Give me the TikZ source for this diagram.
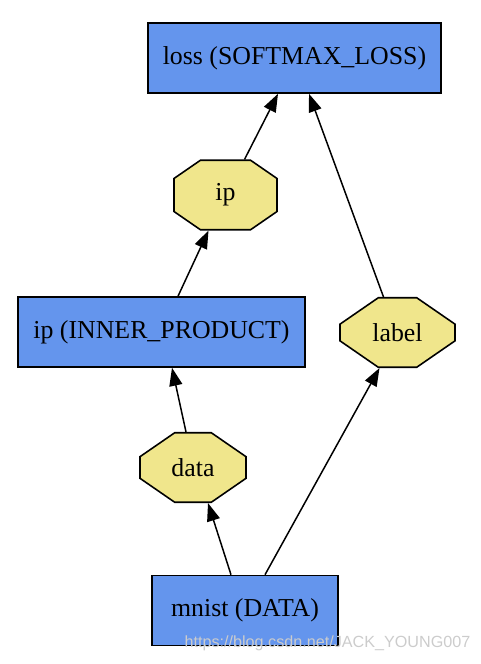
\documentclass[tikz,border=0pt]{standalone}
\usepackage{fontspec}
\setmainfont{Liberation Serif}
\newfontfamily\wmfont{Liberation Sans}
\usepackage{tikz}
\usetikzlibrary{shapes.misc,arrows.meta,calc}

\definecolor{layerblue}{HTML}{6495ED}
\definecolor{blobkhaki}{HTML}{F0E68C}

\begin{document}
\begin{tikzpicture}
	[
	align=center,
	font=\fontsize{14.7}{16}\selectfont,
	layer/.style={draw, line width=0.9pt, fill=layerblue, rectangle, minimum height=1.4cm, inner sep=0pt},
	blob/.style={draw, line width=0.9pt, fill=blobkhaki, chamfered rectangle, chamfered rectangle angle=55.4, chamfered rectangle xsep=0.58cm, chamfered rectangle ysep=0.4cm, minimum height=1.39cm, inner sep=0pt},
	edge/.style={line width=0.85pt, -{Triangle[length=0.36cm,width=0.26cm]}},
	]
		\useasboundingbox (0,0) rectangle (9.6,-13.28);

		% top layer
		\node[layer, minimum width=5.86cm] (loss) at 	( 5.89, -1.16 ) {loss (SOFTMAX\_LOSS)};
		\node[blob, minimum width=2.06cm] (ipb) at 		( 4.51, -3.90 ) {ip};

		% middle layer
		\node[layer, minimum width=5.74cm] (ip) at 		( 3.23, -6.64 ) {ip (INNER\_PRODUCT)};
		\node[blob, minimum width=2.30cm] (label) at 	( 7.95, -6.65 ) {label};

		% data layer
		\node[blob, minimum width=2.12cm] (data) at 	( 3.86, -9.35 ) {data};
		\node[layer, minimum width=3.72cm] (mnist) at 	( 4.90, -12.21 ) {mnist (DATA)};

		% watermark
		\node[text=black!20, font=\wmfont\fontsize{9.2}{11}\selectfont] (wm) at ( 6.55, -12.86 ) {https://blog.csdn.net/JACK\_YOUNG007};

		\foreach \from/\fs/\to/\ts in {mnist/-0.28/data/0.30, mnist/0.40/label/-0.36, data/-0.14/ip/0.21, ip/0.33/ipb/-0.34, ipb/0.38/loss/-0.33, label/-0.28/loss/0.29}
			\draw[edge] ($(\from.north)+(\fs,0)$) -- ($(\to.south)+(\ts,0)$);

	\end{tikzpicture}
\end{document}
